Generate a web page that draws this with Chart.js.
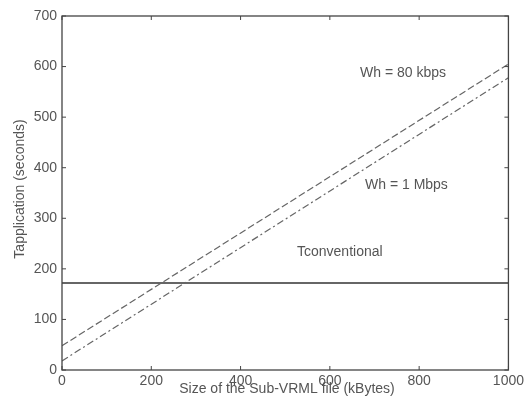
<!DOCTYPE html>
<html>
<head>
<meta charset="utf-8">
<script src="https://cdn.jsdelivr.net/npm/chart.js@4/dist/chart.umd.min.js"></script>
<style>
  body { margin: 0; background: #fff; }
  #wrap { width: 527px; height: 402px; }
</style>
</head>
<body>
<div id="wrap"><canvas id="chart" width="527" height="402"></canvas></div>
<script>
const fileSizes = [0, 1000];
const wh80kbps = [48, 605];
const wh1Mbps = [18, 578];
const tConventional = [172, 172];
const xTicks = [0, 200, 400, 600, 800, 1000];
const yTicks = [0, 100, 200, 300, 400, 500, 600, 700];

const FONT = 'Liberation Sans, Arial, sans-serif';
const TEXT = '#555';

function points(ys) {
  return fileSizes.map((x, i) => ({ x: x, y: ys[i] }));
}

// box, inward tick marks and annotation text
const frame = {
  id: 'frame',
  afterDraw(chart) {
    const { ctx, chartArea: a, scales } = chart;
    ctx.save();
    ctx.strokeStyle = '#444';
    ctx.lineWidth = 1.3;
    ctx.strokeRect(a.left, a.top, a.right - a.left, a.bottom - a.top);
    ctx.lineWidth = 1;
    xTicks.forEach(v => {
      const px = scales.x.getPixelForValue(v);
      ctx.beginPath();
      ctx.moveTo(px, a.bottom); ctx.lineTo(px, a.bottom - 4);
      ctx.moveTo(px, a.top); ctx.lineTo(px, a.top + 4);
      ctx.stroke();
    });
    yTicks.forEach(v => {
      const py = scales.y.getPixelForValue(v);
      ctx.beginPath();
      ctx.moveTo(a.left, py); ctx.lineTo(a.left + 4, py);
      ctx.moveTo(a.right, py); ctx.lineTo(a.right - 4, py);
      ctx.stroke();
    });

    ctx.fillStyle = TEXT;
    ctx.font = '14px ' + FONT;
    ctx.textBaseline = 'middle';
    ctx.textAlign = 'left';
    ctx.fillText('Wh = 80 kbps', 360, 73);
    ctx.fillText('Wh = 1 Mbps', 365, 185);
    ctx.fillText('Tconventional', 297, 252);

    ctx.textAlign = 'center';
    ctx.fillText('Size of the Sub-VRML file (kBytes)', 287, 389);
    ctx.translate(20, 189);
    ctx.rotate(-Math.PI / 2);
    ctx.fillText('Tapplication (seconds)', 0, 0);
    ctx.restore();
  }
};

new Chart(document.getElementById('chart'), {
  type: 'line',
  data: {
    datasets: [
      {
        label: 'Wh = 80 kbps',
        data: points(wh80kbps),
        borderColor: '#666',
        borderWidth: 1.2,
        borderDash: [7, 3],
        pointRadius: 0
      },
      {
        label: 'Wh = 1 Mbps',
        data: points(wh1Mbps),
        borderColor: '#666',
        borderWidth: 1.2,
        borderDash: [7, 3, 2, 3],
        pointRadius: 0
      },
      {
        label: 'Tconventional',
        data: points(tConventional),
        borderColor: '#333',
        borderWidth: 1.6,
        pointRadius: 0
      }
    ]
  },
  options: {
    responsive: false,
    animation: false,
    layout: { padding: { top: 16, right: 17, left: 0, bottom: 0 } },
    plugins: { legend: { display: false }, tooltip: { enabled: false } },
    scales: {
      x: {
        type: 'linear',
        min: 0,
        max: 1000,
        afterFit: s => { s.height = 32; },
        afterBuildTicks: s => { s.ticks = xTicks.map(v => ({ value: v })); },
        grid: { display: false, drawTicks: false },
        border: { display: false },
        ticks: {
          padding: 3, color: TEXT, font: { size: 14, family: FONT },
          callback: v => String(v)
        }
      },
      y: {
        min: 0,
        max: 700,
        afterFit: s => { s.width = 62; },
        afterBuildTicks: s => { s.ticks = yTicks.map(v => ({ value: v })); },
        grid: { display: false, drawTicks: false },
        border: { display: false },
        ticks: {
          padding: 5, color: TEXT, font: { size: 14, family: FONT },
          callback: v => String(v)
        }
      }
    }
  },
  plugins: [frame]
});
</script>
</body>
</html>
